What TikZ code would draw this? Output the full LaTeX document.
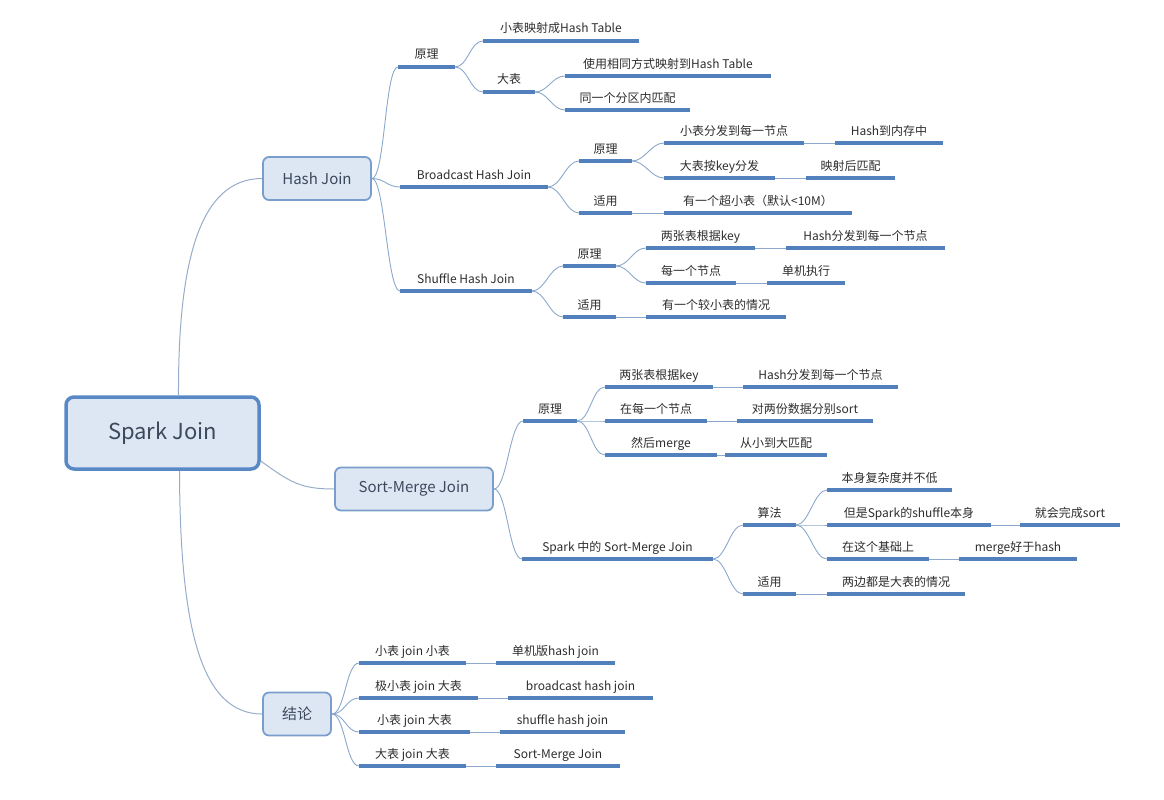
\documentclass[tikz,border=0pt]{standalone}
\usepackage{fontspec}
\setmainfont{Noto Sans CJK SC}
\usepackage{tikz}
\usetikzlibrary{calc}
\definecolor{LineColor}{RGB}{82,128,188}
\definecolor{LinkColor}{RGB}{140,168,204}
\definecolor{MainLink}{RGB}{150,172,200}
\definecolor{BoxFill}{RGB}{221,231,243}
\definecolor{RootBorder}{RGB}{88,136,198}
\definecolor{BoxBorder}{RGB}{122,158,204}
\definecolor{TextColor}{RGB}{45,45,45}
\definecolor{BoxText}{RGB}{60,72,92}
\tikzstyle{topic} = [anchor=south west, inner xsep=0pt, inner ysep=6pt, outer sep=0pt, text height=9pt, text depth=2pt, font=\fontsize{12}{14}\selectfont, text=TextColor]
\tikzstyle{uline} = [LineColor, line width=3.2pt]
\tikzstyle{link} = [LinkColor, line width=0.9pt]
\tikzstyle{branch} = [LinkColor, line width=0.9pt, to path={.. controls ($(\tikztostart)+(13,0)$) and ($(\tikztotarget)+(-13,0)$) .. (\tikztotarget)}]
\tikzstyle{mainlink} = [MainLink, line width=1pt]
\tikzstyle{rootbox} = [draw=RootBorder, line width=3.5pt, fill=BoxFill, rounded corners=8pt, minimum width=193pt, minimum height=72pt, font=\fontsize{22}{26}\selectfont, text=BoxText]
\tikzstyle{subbox} = [draw=BoxBorder, line width=1.8pt, fill=BoxFill, rounded corners=6pt, minimum height=43pt, font=\fontsize{15}{18}\selectfont, text=BoxText]
\begin{document}
\begin{tikzpicture}[x=1pt, y=-1pt]
\useasboundingbox (0,0) rectangle (1164,800);

% main topics
\node[rootbox] (root) at (162.5,433) {Spark Join};
\node[subbox, minimum width=108pt] (hash) at (317,178.5) {Hash Join};
\node[subbox, minimum width=158pt] (smj) at (414,489) {Sort-Merge Join};
\node[subbox, minimum width=68pt] (concl) at (297,714) {结论};

\draw[mainlink] ($(root.north)+(16,0)$) .. controls (178,260) and (200,178.5) .. (hash.west);
\draw[mainlink] ($(root.east)+(0,28)$) .. controls (290,482) and (300,489) .. (smj.west);
\draw[mainlink] ($(root.south)+(17,0)$) .. controls (180,625) and (200,714) .. (concl.west);

% underlined topics: name/left/right/line/text
\foreach \n/\xa/\xb/\y/\t in {
    hp/398/455/67/原理, hp1/483/639/41/小表映射成Hash Table, hp2/483/535/92/大表,
    hp21/565/771/76/使用相同方式映射到Hash Table, hp22/565/690/110/同一个分区内匹配,
    bhj/400/548/187/Broadcast Hash Join, bp/579/632/161/原理,
    bp1/664/804/143/小表分发到每一节点, bp11/835/943/143/Hash到内存中,
    bp2/664/775/178/大表按key分发, bp21/806/895/178/映射后匹配,
    bu/579/632/213/适用, bu1/664/852/213/有一个超小表（默认<10M）,
    shj/400/532/291/Shuffle Hash Join, sp/563/616/266/原理,
    sp1/646/755/248/两张表根据key, sp11/786/945/248/Hash分发到每一个节点,
    sp2/646/736/283/每一个节点, sp21/767/845/283/单机执行,
    su/563/616/317/适用, su1/646/786/317/有一个较小表的情况,
    mp/523/577/421/原理, mp1/605/713/387/两张表根据key, mp11/743/898/387/Hash分发到每一个节点,
    mp2/605/707/421/在每一个节点, mp21/737/873/421/对两份数据分别sort,
    mp3/605/717/455/然后merge, mp31/725/827/455/从小到大匹配,
    ms/522/713/559/Spark 中的 Sort-Merge Join, ma/743/796/525/算法,
    ma1/827/952/490/本身复杂度并不低, ma2/827/991/525/但是Spark的shuffle本身,
    ma21/1020/1120/525/就会完成sort, ma3/827/929/559/在这个基础上,
    ma31/959/1077/559/merge好于hash, mu/743/796/594/适用, mu1/827/965/594/两边都是大表的情况,
    c1/359/466/663/小表 join 小表, c11/496/615/663/单机版hash join,
    c2/359/478/698/极小表 join 大表, c21/508/653/698/broadcast hash join,
    c3/359/470/732/小表 join 大表, c31/500/625/732/shuffle hash join,
    c4/359/466/766/大表 join 大表, c41/496/620/766/Sort-Merge Join} {
  \node[topic, minimum width=\xb pt-\xa pt] (\n) at (\xa,\y) {\t};
  \draw[uline] (\n.south west) -- (\n.south east);
}

% curved branches
\foreach \a/\b in {hash/hp, hash/bhj, hash/shj, smj/mp, smj/ms, concl/c1, concl/c2, concl/c3, concl/c4}
  \draw[branch] (\a.east) to (\b.south west);
\foreach \a/\b in {hp/hp1, hp/hp2, hp2/hp21, hp2/hp22, bhj/bp, bhj/bu, bp/bp1, bp/bp2,
    shj/sp, shj/su, sp/sp1, sp/sp2, mp/mp1, mp/mp2, mp/mp3, ms/ma, ms/mu, ma/ma1, ma/ma2, ma/ma3}
  \draw[branch] (\a.south east) to (\b.south west);

% straight links
\foreach \a/\b in {bp1/bp11, bp2/bp21, bu/bu1, sp1/sp11, sp2/sp21, su/su1, mp1/mp11, mp2/mp21,
    mp3/mp31, ma2/ma21, ma3/ma31, mu/mu1, c1/c11, c2/c21, c3/c31, c4/c41}
  \draw[link] (\a.south east) -- (\b.south west);
\end{tikzpicture}
\end{document}
